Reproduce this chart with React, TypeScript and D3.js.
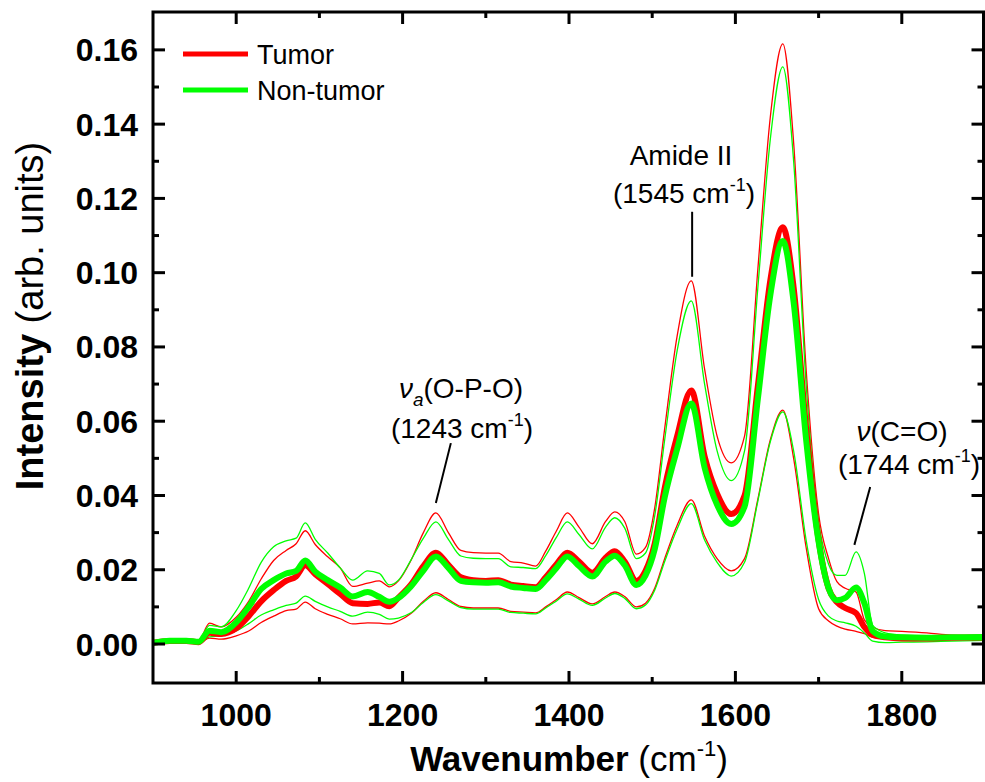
import * as d3 from "d3";
import React from "react";

// wavenumbers (cm-1) sampled along the spectra
const wavenumbers = [900, 920, 940, 955, 968, 982, 1000, 1015, 1030, 1045, 1060, 1072, 1083, 1095, 1110, 1125, 1140, 1158, 1172, 1184, 1195, 1210, 1225, 1240, 1255, 1270, 1285, 1300, 1315, 1330, 1345, 1360, 1372, 1385, 1398, 1412, 1428, 1444, 1455, 1467, 1481, 1492, 1503, 1515, 1530, 1547, 1563, 1578, 1595, 1611, 1627, 1642, 1657, 1670, 1685, 1700, 1712, 1722, 1732, 1745, 1755, 1765, 1780, 1800, 1830, 1860, 1900];

const tumorMean = [0.0003, 0.0008, 0.0008, 0.0005, 0.0030, 0.0027, 0.0042, 0.0075, 0.0115, 0.0145, 0.0170, 0.0182, 0.0212, 0.0188, 0.0162, 0.0135, 0.0110, 0.0108, 0.0112, 0.0102, 0.0125, 0.0160, 0.0210, 0.0246, 0.0213, 0.0180, 0.0172, 0.0170, 0.0172, 0.0160, 0.0156, 0.0153, 0.0180, 0.0215, 0.0246, 0.0222, 0.0192, 0.0232, 0.0250, 0.0222, 0.0170, 0.0197, 0.0270, 0.0420, 0.0560, 0.0683, 0.0505, 0.0405, 0.0350, 0.0400, 0.0695, 0.0980, 0.1122, 0.0960, 0.0580, 0.0280, 0.0150, 0.0113, 0.0097, 0.0083, 0.0046, 0.0025, 0.0018, 0.0015, 0.0015, 0.0017, 0.0018];
const tumorUpper = [0.0008, 0.0012, 0.0012, 0.0010, 0.0056, 0.0046, 0.0072, 0.0115, 0.0175, 0.0225, 0.0252, 0.0270, 0.0305, 0.0268, 0.0235, 0.0205, 0.0155, 0.0164, 0.0170, 0.0154, 0.0170, 0.0225, 0.0300, 0.0353, 0.0300, 0.0252, 0.0246, 0.0245, 0.0245, 0.0222, 0.0218, 0.0210, 0.0250, 0.0305, 0.0353, 0.0315, 0.0270, 0.0330, 0.0356, 0.0330, 0.0242, 0.0260, 0.0366, 0.0580, 0.0830, 0.0978, 0.0740, 0.0560, 0.0488, 0.0560, 0.1010, 0.1420, 0.1616, 0.1350, 0.0740, 0.0350, 0.0230, 0.0168, 0.0150, 0.0140, 0.0065, 0.0045, 0.0036, 0.0034, 0.0030, 0.0024, 0.0022];
const tumorLower = [0.0002, 0.0006, 0.0006, 0.0003, 0.0016, 0.0013, 0.0022, 0.0035, 0.0058, 0.0075, 0.0090, 0.0094, 0.0113, 0.0095, 0.0080, 0.0068, 0.0054, 0.0057, 0.0056, 0.0054, 0.0062, 0.0082, 0.0115, 0.0138, 0.0120, 0.0101, 0.0097, 0.0097, 0.0097, 0.0088, 0.0086, 0.0084, 0.0100, 0.0120, 0.0140, 0.0125, 0.0108, 0.0128, 0.0140, 0.0128, 0.0100, 0.0110, 0.0150, 0.0230, 0.0320, 0.0388, 0.0290, 0.0230, 0.0197, 0.0230, 0.0390, 0.0550, 0.0630, 0.0500, 0.0260, 0.0095, 0.0062, 0.0048, 0.0040, 0.0034, 0.0028, 0.0018, 0.0014, 0.0012, 0.0012, 0.0014, 0.0014];

const nonTumorMean = [0.0003, 0.0009, 0.0009, 0.0006, 0.0036, 0.0032, 0.0058, 0.0100, 0.0148, 0.0172, 0.0190, 0.0197, 0.0225, 0.0195, 0.0172, 0.0152, 0.0128, 0.0140, 0.0127, 0.0114, 0.0124, 0.0155, 0.0198, 0.0236, 0.0205, 0.0170, 0.0166, 0.0165, 0.0166, 0.0155, 0.0151, 0.0148, 0.0172, 0.0205, 0.0236, 0.0210, 0.0182, 0.0222, 0.0238, 0.0212, 0.0159, 0.0185, 0.0255, 0.0395, 0.0525, 0.0648, 0.0475, 0.0375, 0.0323, 0.0370, 0.0660, 0.0940, 0.1085, 0.0920, 0.0550, 0.0275, 0.0150, 0.0118, 0.0124, 0.0152, 0.0110, 0.0035, 0.0020, 0.0018, 0.0017, 0.0018, 0.0019];
const nonTumorUpper = [0.0008, 0.0013, 0.0013, 0.0011, 0.0050, 0.0046, 0.0090, 0.0150, 0.0220, 0.0262, 0.0278, 0.0285, 0.0326, 0.0282, 0.0245, 0.0205, 0.0172, 0.0197, 0.0190, 0.0159, 0.0172, 0.0226, 0.0285, 0.0329, 0.0282, 0.0237, 0.0231, 0.0230, 0.0230, 0.0208, 0.0206, 0.0203, 0.0238, 0.0288, 0.0329, 0.0295, 0.0256, 0.0315, 0.0340, 0.0312, 0.0230, 0.0245, 0.0345, 0.0550, 0.0790, 0.0924, 0.0700, 0.0520, 0.0440, 0.0520, 0.0960, 0.1360, 0.1554, 0.1300, 0.0700, 0.0330, 0.0215, 0.0185, 0.0185, 0.0248, 0.0190, 0.0050, 0.0030, 0.0024, 0.0022, 0.0022, 0.0022];
const nonTumorLower = [0.0002, 0.0006, 0.0006, 0.0003, 0.0019, 0.0022, 0.0035, 0.0055, 0.0078, 0.0092, 0.0104, 0.0110, 0.0129, 0.0115, 0.0100, 0.0088, 0.0075, 0.0086, 0.0080, 0.0067, 0.0070, 0.0084, 0.0112, 0.0133, 0.0116, 0.0098, 0.0094, 0.0094, 0.0094, 0.0085, 0.0083, 0.0081, 0.0097, 0.0116, 0.0135, 0.0121, 0.0104, 0.0124, 0.0136, 0.0123, 0.0095, 0.0105, 0.0145, 0.0222, 0.0310, 0.0378, 0.0280, 0.0220, 0.0183, 0.0220, 0.0385, 0.0545, 0.0625, 0.0520, 0.0280, 0.0120, 0.0075, 0.0062, 0.0057, 0.0048, 0.0030, 0.0008, 0.0004, 0.0005, 0.0006, 0.0008, 0.0010];

const xMajorTicks = [1000, 1200, 1400, 1600, 1800];
const xMinorTicks = [1100, 1300, 1500, 1700];
const yMajorTicks = [0, 0.02, 0.04, 0.06, 0.08, 0.1, 0.12, 0.14, 0.16];
const yMinorTicks = [0.01, 0.03, 0.05, 0.07, 0.09, 0.11, 0.13, 0.15];

const legendItems = [
  { label: "Tumor", color: "#ff0000" },
  { label: "Non-tumor", color: "#00ff00" },
];

// leader lines: [wavenumber, intensity] at top and bottom
const leaders = [
  { from: [1258, 0.0541], to: [1240, 0.038] },
  { from: [1548, 0.1164], to: [1548, 0.0989] },
  { from: [1762, 0.0423], to: [1743, 0.0267] },
];

const W = 985;
const H = 782;
const left = 153, right = 985, top = 12, bottom = 683;
const font = "'Liberation Sans', Arial, Helvetica, sans-serif";

export default function App() {
  const x = d3.scaleLinear().domain([900, 1900]).range([left, right]);
  const y = d3.scaleLinear().domain([-0.0105, 0.1702]).range([bottom, top]);
  const line = (vals: number[]) =>
    d3.line<number>().x((_, i) => x(wavenumbers[i])).y((d) => y(d)).curve(d3.curveMonotoneX)(vals) || "";
  const fmt = d3.format(".2f");

  const thin = [
    { v: tumorUpper, c: "#ff0000" },
    { v: tumorLower, c: "#ff0000" },
    { v: nonTumorUpper, c: "#00ff00" },
    { v: nonTumorLower, c: "#00ff00" },
  ];
  const thick = [
    { v: tumorMean, c: "#ff0000" },
    { v: nonTumorMean, c: "#00ff00" },
  ];

  return (
    <div style={{ position: "absolute", left: 0, top: 0 }}>
      <svg width={W} height={H} style={{ display: "block", background: "#fff" }} fontFamily={font}>
        <defs>
          <clipPath id="plot">
            <rect x={left} y={top} width={right - left} height={bottom - top} />
          </clipPath>
        </defs>
        <g clipPath="url(#plot)" fill="none">
          {thin.map((s, i) => (
            <path key={"t" + i} d={line(s.v)} stroke={s.c} strokeWidth={1.3} />
          ))}
          {thick.map((s, i) => (
            <path key={"k" + i} d={line(s.v)} stroke={s.c} strokeWidth={6} strokeLinejoin="round" />
          ))}
        </g>

        {/* frame */}
        <rect x={left} y={top} width={right - left - 1.5} height={bottom - top} fill="none" stroke="#000" strokeWidth={3} />

        {/* x ticks, bottom and top, inward */}
        {xMajorTicks.map((t) => (
          <g key={"xm" + t} stroke="#000" strokeWidth={3}>
            <line x1={x(t)} x2={x(t)} y1={bottom} y2={bottom - 12} />
            <line x1={x(t)} x2={x(t)} y1={top} y2={top + 12} />
          </g>
        ))}
        {xMinorTicks.map((t) => (
          <g key={"xn" + t} stroke="#000" strokeWidth={3}>
            <line x1={x(t)} x2={x(t)} y1={bottom} y2={bottom - 6} />
            <line x1={x(t)} x2={x(t)} y1={top} y2={top + 6} />
          </g>
        ))}
        {xMajorTicks.map((t) => (
          <text key={"xl" + t} x={x(t)} y={726} textAnchor="middle" fontSize={32} fontWeight="bold">
            {t}
          </text>
        ))}

        {/* y ticks, left and right, inward */}
        {yMajorTicks.map((t) => (
          <g key={"ym" + t} stroke="#000" strokeWidth={3}>
            <line x1={left} x2={left + 12} y1={y(t)} y2={y(t)} />
            <line x1={right - 1.5} x2={right - 13.5} y1={y(t)} y2={y(t)} />
          </g>
        ))}
        {yMinorTicks.map((t) => (
          <g key={"yn" + t} stroke="#000" strokeWidth={3}>
            <line x1={left} x2={left + 6} y1={y(t)} y2={y(t)} />
            <line x1={right - 1.5} x2={right - 7.5} y1={y(t)} y2={y(t)} />
          </g>
        ))}
        {yMajorTicks.map((t) => (
          <text key={"yl" + t} x={138} y={y(t) + 11.5} textAnchor="end" fontSize={32} fontWeight="bold">
            {fmt(t)}
          </text>
        ))}

        {/* axis titles */}
        <text x={569} y={771} textAnchor="middle" fontSize={35}>
          <tspan fontWeight="bold">Wavenumber</tspan>
          <tspan> (cm</tspan>
          <tspan fontSize={22} dy={-15}>-1</tspan>
          <tspan dy={15}>)</tspan>
        </text>
        <text transform="translate(43,316) rotate(-90)" textAnchor="middle" fontSize={38}>
          <tspan fontWeight="bold">Intensity</tspan>
          <tspan> (arb. units)</tspan>
        </text>

        {/* legend */}
        {legendItems.map((it, i) => (
          <g key={it.label}>
            <line x1={183} x2={248} y1={54 + i * 36} y2={54 + i * 36} stroke={it.color} strokeWidth={5} />
            <text x={257} y={64 + i * 36} fontSize={27}>
              {it.label}
            </text>
          </g>
        ))}

        {/* annotations */}
        <g fontSize={28} textAnchor="middle">
          <text x={461} y={398}>
            <tspan fontStyle="italic">ν</tspan>
            <tspan fontStyle="italic" fontSize={19} dy={8}>a</tspan>
            <tspan dy={-8}>(O-P-O)</tspan>
          </text>
          <text x={462} y={438}>
            (1243 cm<tspan fontSize={18} dy={-12}>-1</tspan>
            <tspan dy={12}>)</tspan>
          </text>
          <text x={681} y={165}>Amide II</text>
          <text x={684} y={203}>
            (1545 cm<tspan fontSize={18} dy={-12}>-1</tspan>
            <tspan dy={12}>)</tspan>
          </text>
          <text x={902} y={441}>
            <tspan fontStyle="italic">ν</tspan>
            <tspan>(C=O)</tspan>
          </text>
          <text x={909} y={474}>
            (1744 cm<tspan fontSize={18} dy={-12}>-1</tspan>
            <tspan dy={12}>)</tspan>
          </text>
        </g>
        {leaders.map((l, i) => (
          <line key={"ld" + i} x1={x(l.from[0])} y1={y(l.from[1])} x2={x(l.to[0])} y2={y(l.to[1])} stroke="#000" strokeWidth={2} />
        ))}
      </svg>
    </div>
  );
}
